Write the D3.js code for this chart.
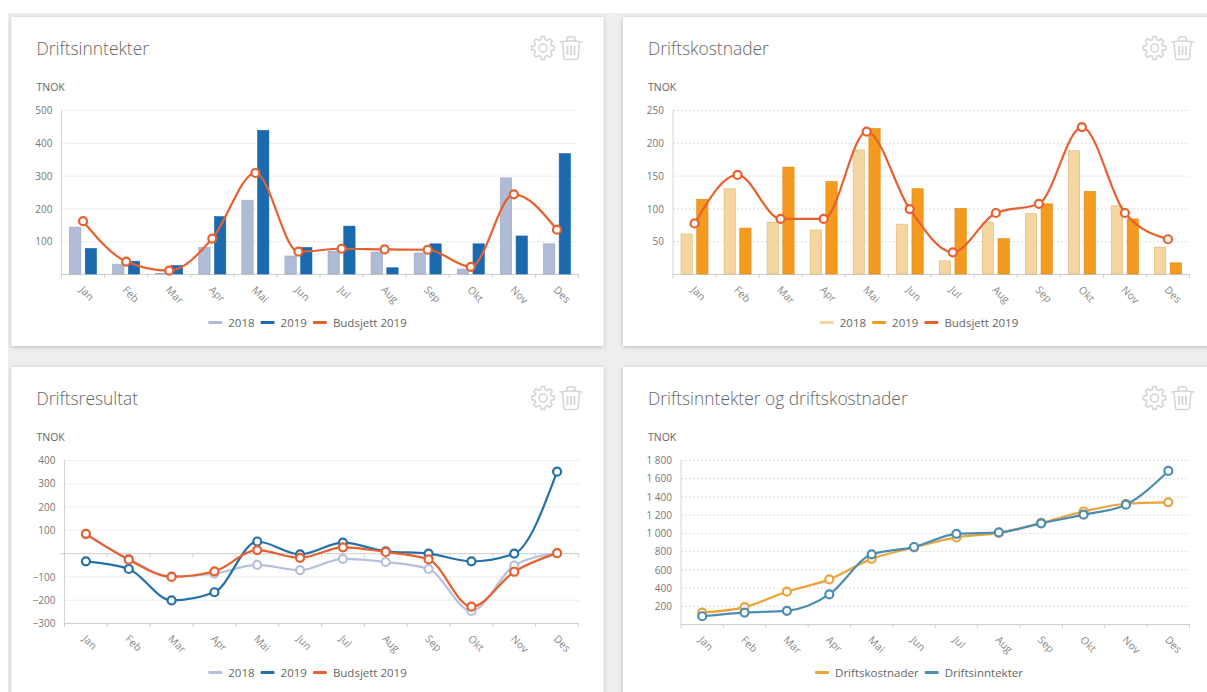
<!DOCTYPE html>
<html lang="no">
<head>
<meta charset="utf-8">
<style>
html, body {
    margin: 0;
    padding: 0;
    background-color: #fff;
    overflow: hidden;
}
svg {
    display: block;
    font-family: "Open Sans", sans-serif;
}
</style>
</head>
<body>
<svg width="1207" height="692"></svg>

<script src="https://cdnjs.cloudflare.com/ajax/libs/d3/7.8.5/d3.min.js"></script>
<script>
var months = ["Jan", "Feb", "Mar", "Apr", "Mai", "Jun", "Jul", "Aug", "Sep", "Okt", "Nov", "Des"];

// Driftsinntekter
var inntekter2018 = [143, 29, 2, 81, 225, 55, 70, 67, 64, 15, 293, 92];
var inntekter2019 = [78, 39, 26, 175, 438, 81, 146, 19, 92, 92, 116, 367];
var inntekterBudsjett = [161, 38, 10, 108, 308, 68, 77, 75, 74, 22, 243, 135];
var inntekterTicks = [100, 200, 300, 400, 500];

// Driftskostnader
var kostnader2018 = [61, 130, 79, 67, 189, 76, 20, 79, 92, 188, 104, 41];
var kostnader2019 = [114, 70, 163, 141, 222, 130, 100, 54, 107, 126, 84, 17];
var kostnaderBudsjett = [77, 151, 84, 84, 217, 99, 33, 93, 107, 224, 93, 53];
var kostnaderTicks = [50, 100, 150, 200, 250];

// Driftsresultat
var resultat2018 = [80, -25, -100, -88, -50, -73, -25, -38, -68, -248, -53, 0];
var resultat2019 = [-35, -68, -203, -168, 50, -5, 45, 8, -2, -35, -2, 350];
var resultatBudsjett = [83, -28, -102, -78, 13, -20, 25, 5, -27, -230, -80, 0];
var resultatTicks = [-300, -200, -100, 100, 200, 300, 400];

// Driftsinntekter og driftskostnader (akkumulert)
var akkKostnader = [125, 185, 355, 490, 715, 840, 950, 1000, 1110, 1235, 1320, 1335];
var akkInntekter = [85, 125, 145, 325, 765, 845, 990, 1005, 1105, 1200, 1310, 1680];
var akkTicks = [200, 400, 600, 800, 1000, 1200, 1400, 1600, 1800];

var svg = d3.select("svg");
var fmt = d3.formatLocale({decimal: ",", thousands: " ", grouping: [3], currency: ["", ""]}).format(",d");

var defs = svg.append("defs");
var shadow = defs.append("filter").attr("id", "shadow")
    .attr("x", "-3%").attr("y", "-3%").attr("width", "106%").attr("height", "106%");
shadow.append("feDropShadow")
    .attr("dx", 0).attr("dy", 1).attr("stdDeviation", 2)
    .attr("flood-color", "#000").attr("flood-opacity", 0.22);

// grey page background
svg.append("rect").attr("x", 8).attr("y", 13).attr("width", 1199).attr("height", 679).attr("fill", "#eeeeee");

function gearPath(r1, r2, teeth) {
    var pts = [];
    for (var i = 0; i < teeth; i++) {
        var a = i / teeth * Math.PI * 2;
        var s = Math.PI * 2 / teeth;
        pts.push([Math.cos(a - s * 0.36) * r2, Math.sin(a - s * 0.36) * r2]);
        pts.push([Math.cos(a - s * 0.18) * r1, Math.sin(a - s * 0.18) * r1]);
        pts.push([Math.cos(a + s * 0.18) * r1, Math.sin(a + s * 0.18) * r1]);
        pts.push([Math.cos(a + s * 0.36) * r2, Math.sin(a + s * 0.36) * r2]);
    }
    return d3.line().curve(d3.curveLinearClosed)(pts);
}

function drawCard(c) {
    var g = svg.append("g");

    g.append("rect")
        .attr("x", c.card[0]).attr("y", c.card[1])
        .attr("width", c.card[2]).attr("height", c.card[3])
        .attr("fill", "#fff")
        .attr("filter", "url(#shadow)");

    var left = c.card[0];
    var top = c.card[1];
    var centerX = left + c.card[2] / 2;

    g.append("text")
        .attr("x", left + 25).attr("y", top + 38)
        .attr("font-size", 17.4).attr("font-weight", 300)
        .attr("fill", "#666")
        .text(c.title);

    g.append("text")
        .attr("x", left + 25).attr("y", top + 74)
        .attr("font-size", 10.5)
        .attr("fill", "#666")
        .text("TNOK");

    // gear and trash icons
    var icons = g.append("g")
        .attr("fill", "none").attr("stroke", "#d6d6d6").attr("stroke-width", 1.6);
    var gear = icons.append("g").attr("transform", "translate(" + (left + 531.5) + "," + (top + 31) + ")");
    gear.append("path").attr("d", gearPath(11.5, 8.5, 8)).attr("stroke-linejoin", "round");
    gear.append("circle").attr("r", 4);
    var trash = icons.append("g").attr("transform", "translate(" + (left + 559.5) + "," + (top + 31) + ")");
    trash.append("path").attr("d", "M-11.5,-6Q0,-8 11.5,-6M-4,-7V-10.5Q0,-12 4,-10.5V-7M-8.5,-6L-7,10Q-6.8,11.5 -5,11.5H5Q6.8,11.5 7,10L8.5,-6");
    trash.append("path").attr("d", "M-3.5,-2V7M0,-2V7M3.5,-2V7").attr("stroke-width", 1.8);

    var x = d3.scaleBand().domain(months).range(c.xRange);
    var y = d3.scaleLinear().domain(c.yDomain).range(c.yRange);

    // dotted grid
    g.append("g").selectAll("line").data(c.ticks).join("line")
        .attr("x1", c.xRange[0]).attr("x2", c.xRange[1])
        .attr("y1", function(d) { return y(d) + 0.5; })
        .attr("y2", function(d) { return y(d) + 0.5; })
        .attr("stroke", "#dedede")
        .attr("stroke-dasharray", "2,2");

    // y axis
    var yAxis = g.append("g")
        .attr("transform", "translate(" + c.xRange[0] + ",0.5)")
        .call(d3.axisLeft(y).tickValues(c.ticks).tickSize(4).tickPadding(5).tickFormat(fmt));
    yAxis.selectAll("line").attr("stroke", "none");
    yAxis.select(".domain").attr("stroke", "#d5d5d5").attr("d", "M0," + c.yRange[1] + "V" + c.yRange[0]);
    yAxis.selectAll("text")
        .attr("font-family", '"Open Sans", sans-serif')
        .attr("font-size", 10)
        .attr("fill", "#777");

    // x axis
    var xAxis = g.append("g")
        .attr("transform", "translate(0," + (c.yRange[0] + 0.5) + ")")
        .call(d3.axisBottom(x).tickSize(0).tickPadding(0));
    xAxis.select(".domain").attr("stroke", "#cfcfcf").attr("d", "M" + c.xRange[0] + ",0H" + c.xRange[1]);
    xAxis.selectAll("text")
        .attr("font-family", '"Open Sans", sans-serif')
        .attr("font-size", 10.5)
        .attr("fill", "#888")
        .attr("text-anchor", "start")
        .attr("transform", "translate(-1.5,13.5) rotate(45)")
        .attr("dy", "0.35em")
        .attr("y", 0);

    var edges = months.map(function(m) { return x(m); }).concat([c.xRange[1]]);
    g.append("g").selectAll("line").data(edges).join("line")
        .attr("x1", function(d) { return d; }).attr("x2", function(d) { return d; })
        .attr("y1", c.yRange[0]).attr("y2", c.yRange[0] + 4)
        .attr("stroke", "#cfcfcf");

    // zero line when the scale goes negative
    if (c.yDomain[0] < 0) {
        g.append("line")
            .attr("x1", c.xRange[0] - 4).attr("x2", c.xRange[1])
            .attr("y1", y(0) + 0.5).attr("y2", y(0) + 0.5)
            .attr("stroke", "#cfcfcf");
        g.append("g").selectAll("line").data(edges).join("line")
            .attr("x1", function(d) { return d; }).attr("x2", function(d) { return d; })
            .attr("y1", y(0)).attr("y2", y(0) + 4)
            .attr("stroke", "#cfcfcf");
    }

    // bars
    if (c.bars) {
        var inner = d3.scaleBand().domain(d3.range(c.bars.length))
            .range([0, x.bandwidth()]).paddingInner(0.28).paddingOuter(0.51);
        c.bars.forEach(function(s, k) {
            g.append("g").selectAll("rect").data(s.values).join("rect")
                .attr("x", function(d, i) { return x(months[i]) + inner(k); })
                .attr("y", function(d) { return y(d); })
                .attr("width", inner.bandwidth())
                .attr("height", function(d) { return y(0) - y(d); })
                .attr("fill", s.color)
                .attr("stroke", s.border)
                .attr("stroke-width", 0.6);
        });
    }

    // lines with round markers
    var line = d3.line()
        .x(function(d, i) { return x(months[i]) + x.bandwidth() / 2; })
        .y(function(d) { return y(d); })
        .curve(d3.curveMonotoneX);

    c.lines.forEach(function(s) {
        g.append("path")
            .attr("d", line(s.values))
            .attr("fill", "none")
            .attr("stroke", s.color)
            .attr("stroke-width", 2.2);
        g.append("g").selectAll("circle").data(s.values).join("circle")
            .attr("cx", function(d, i) { return x(months[i]) + x.bandwidth() / 2; })
            .attr("cy", function(d) { return y(d); })
            .attr("r", 4)
            .attr("fill", "#fff")
            .attr("stroke", s.color)
            .attr("stroke-width", 2.2);
    });

    // legend, centred in the card
    var legend = g.append("g").attr("font-size", 11.5).attr("fill", "#666");
    var cursor = 0;
    c.legend.forEach(function(s, i) {
        legend.append("rect")
            .attr("x", cursor).attr("y", c.legendY - 1.5)
            .attr("width", 14).attr("height", 3)
            .attr("rx", 1)
            .attr("fill", s.color);
        var t = legend.append("text")
            .attr("x", cursor + 20).attr("y", c.legendY + 4)
            .text(s.name);
        cursor += 20 + t.node().getComputedTextLength() + 6;
    });
    legend.attr("transform", "translate(" + (centerX - (cursor - 6) / 2) + ",0)");
}

var grey = "#b0bcd6", blue = "#1a6aad", red = "#e8602e";
var lightOrange = "#f5d5a0", orange = "#f39a1f";

drawCard({
    title: "Driftsinntekter",
    card: [11.5, 17, 592, 329],
    xRange: [61.5, 578.5],
    yRange: [274, 110],
    yDomain: [0, 500],
    ticks: inntekterTicks,
    bars: [
        {values: inntekter2018, color: grey, border: "#98a5c0"},
        {values: inntekter2019, color: blue, border: "#1a6aad"}
    ],
    lines: [{values: inntekterBudsjett, color: red}],
    legend: [{name: "2018", color: grey}, {name: "2019", color: blue}, {name: "Budsjett 2019", color: red}],
    legendY: 322.5
});

drawCard({
    title: "Driftskostnader",
    card: [623, 17, 592, 329],
    xRange: [673, 1189.5],
    yRange: [274, 110],
    yDomain: [0, 250],
    ticks: kostnaderTicks,
    bars: [
        {values: kostnader2018, color: lightOrange, border: "#d9b67c"},
        {values: kostnader2019, color: orange, border: "#e08a14"}
    ],
    lines: [{values: kostnaderBudsjett, color: red}],
    legend: [{name: "2018", color: lightOrange}, {name: "2019", color: orange}, {name: "Budsjett 2019", color: red}],
    legendY: 322.5
});

drawCard({
    title: "Driftsresultat",
    card: [11.5, 367, 592, 340],
    xRange: [64.5, 578.5],
    yRange: [623, 460],
    yDomain: [-300, 400],
    ticks: resultatTicks,
    lines: [
        {values: resultat2018, color: "#b7c0da"},
        {values: resultat2019, color: "#2470a8"},
        {values: resultatBudsjett, color: red}
    ],
    legend: [{name: "2018", color: "#b7c0da"}, {name: "2019", color: "#2470a8"}, {name: "Budsjett 2019", color: red}],
    legendY: 672.5
});

drawCard({
    title: "Driftsinntekter og driftskostnader",
    card: [623, 367, 592, 340],
    xRange: [681, 1189.5],
    yRange: [624, 460],
    yDomain: [0, 1800],
    ticks: akkTicks,
    lines: [
        {values: akkKostnader, color: "#eda33a"},
        {values: akkInntekter, color: "#4a8fb0"}
    ],
    legend: [{name: "Driftskostnader", color: "#eda33a"}, {name: "Driftsinntekter", color: "#4a8fb0"}],
    legendY: 672.5
});
</script>
</body>
</html>
